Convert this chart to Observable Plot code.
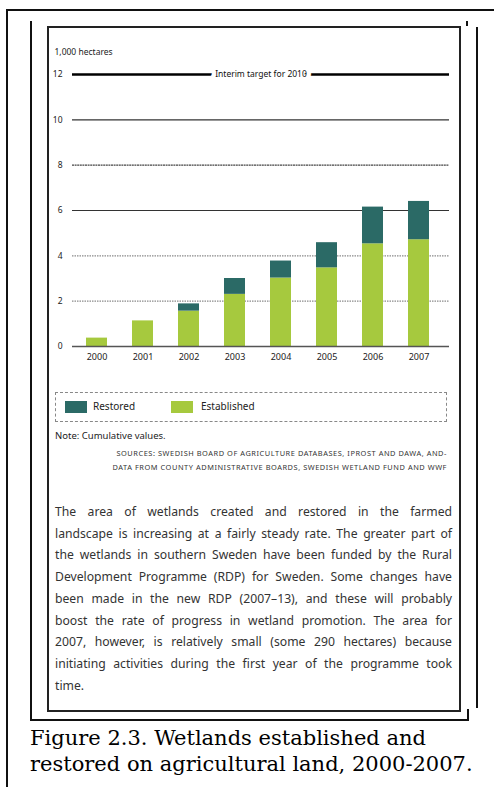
<!DOCTYPE html>
<html>
<head>
<meta charset="utf-8">
<script src="https://cdn.jsdelivr.net/npm/d3@7"></script>
<script src="https://cdn.jsdelivr.net/npm/@observablehq/plot@0.6"></script>
<style>
  html, body { margin: 0; padding: 0; background: #fff; }
  body { width: 494px; height: 787px; position: relative; overflow: hidden; font-family: "Noto Sans", "Open Sans", sans-serif; color: #222; }
  .ln { position: absolute; background: #111; }
  #chart { position: absolute; left: 48px; top: 40px; }
  #legend { position: absolute; left: 55px; top: 392px; width: 392px; height: 30px; border: 1px dashed #888; box-sizing: border-box; font-size: 10px; }
  .sw { position: absolute; top: 8px; width: 22px; height: 12px; }
  .lt { position: absolute; top: 6px; line-height: 14px; }
  #note { position: absolute; left: 55px; top: 429px; font-size: 9.5px; line-height: 14px; }
  #source { position: absolute; right: 47px; top: 446px; font-size: 7.4px; line-height: 14px; text-align: right; letter-spacing: 0.55px; color: #333; white-space: nowrap; }
  #para { position: absolute; left: 55px; top: 501px; width: 397px; font-size: 12.2px; line-height: 21.7px; color: #333; }
  #para div { text-align: justify; text-align-last: justify; white-space: nowrap; }
  #para div.last { text-align-last: left; }
  #caption { position: absolute; left: 30px; top: 725px; font-family: "DejaVu Serif", "Liberation Serif", serif; font-size: 21px; line-height: 26px; color: #000; white-space: nowrap; }
</style>
</head>
<body>
<!-- frame lines -->
<div class="ln" style="left:7px; top:9px; width:487px; height:2px;"></div>
<div class="ln" style="left:6px; top:9px; width:2px; height:778px;"></div>
<div class="ln" style="left:30px; top:21px; width:2px; height:700px;"></div>
<div class="ln" style="left:30px; top:719px; width:439px; height:2px;"></div>
<div class="ln" style="left:467px; top:709px; width:2px; height:11px;"></div>
<div class="ln" style="left:466px; top:21px; width:2px; height:5px;"></div>
<div class="ln" style="left:476px; top:27px; width:2px; height:681px;"></div>
<div style="position:absolute; left:47px; top:26px; width:410px; height:682px; border:2px solid #222;"></div>

<div id="chart"></div>
<div id="legend"></div>
<div id="note"></div>
<div id="source"></div>
<div id="para"></div>
<div id="caption"></div>

<script>
const years = ["2000", "2001", "2002", "2003", "2004", "2005", "2006", "2007"];
const established = [0.37, 1.13, 1.56, 2.30, 3.02, 3.47, 4.53, 4.71];
const restored = [0, 0, 0.32, 0.70, 0.75, 1.11, 1.62, 1.69];
const seriesNames = ["Restored", "Established"];
const seriesColors = ["#2b6a66", "#a6c93e"];
const yTicks = [0, 2, 4, 6, 8, 10, 12];
const gridSolid = [6, 10];
const gridDashed = [8];
const gridLight = [2, 4];
const targetValue = [12];
const targetLabel = "Interim target for 2010";
const unitLabel = "1,000 hectares";
const noteText = "Note: Cumulative values.";
const sourceLines = [
  "SOURCES: SWEDISH BOARD OF AGRICULTURE DATABASES, IPROST AND DAWA, AND-",
  "DATA FROM COUNTY ADMINISTRATIVE BOARDS, SWEDISH WETLAND FUND AND WWF"
];
const paraLines = [
  "The area of wetlands created and restored in the farmed",
  "landscape is increasing at a fairly steady rate. The greater part of",
  "the wetlands in southern Sweden have been funded by the Rural",
  "Development Programme (RDP) for Sweden. Some changes have",
  "been made in the new RDP (2007–13), and these will probably",
  "boost the rate of progress in wetland promotion. The area for",
  "2007, however, is relatively small (some 290 hectares) because",
  "initiating activities during the first year of the programme took",
  "time."
];
const captionLines = [
  "Figure 2.3. Wetlands established and",
  "restored on agricultural land, 2000-2007."
];

const data = [];
years.forEach((y, i) => {
  data.push({year: y, type: "Established", value: established[i]});
  data.push({year: y, type: "Restored", value: restored[i]});
});

const chart = Plot.plot({
  width: 412,
  height: 330,
  marginLeft: 24,
  marginRight: 11,
  marginTop: 34,
  marginBottom: 24,
  style: {fontFamily: "'Noto Sans', sans-serif", fontSize: "8.5px", color: "#222", background: "transparent"},
  x: {domain: years, paddingInner: 0.55, paddingOuter: 0.35, align: 0.4, label: null},
  y: {domain: [0, 12], label: null},
  color: {domain: seriesNames, range: seriesColors},
  marks: [
    Plot.ruleY(gridLight, {stroke: "#8a8a8a", strokeWidth: 1.2, strokeDasharray: "1.5,1"}),
    Plot.ruleY(gridDashed, {stroke: "#444", strokeWidth: 1.2, strokeDasharray: "2,0.6"}),
    Plot.ruleY(gridSolid, {stroke: "#333", strokeWidth: 1.2}),
    Plot.barY(data, {x: "year", y: "value", fill: "type"}),
    Plot.ruleY([0], {stroke: "#555", strokeWidth: 1.3}),
    Plot.ruleY(targetValue, {stroke: "#000", strokeWidth: 2.6}),
    Plot.text(targetValue, {y: d => d, text: () => targetLabel, fill: "#111", stroke: "white", strokeWidth: 9, fontSize: 8.5}),
    Plot.text([unitLabel], {frameAnchor: "top-left", text: d => d, dx: -18, dy: -22, textAnchor: "start", lineAnchor: "middle", fontSize: 8.5, fill: "#222"}),
    Plot.axisY({ticks: yTicks, tickSize: 0, tickPadding: 10, fontSize: 8.5}),
    Plot.axisX({tickSize: 0, tickPadding: 7, fontSize: 9})
  ]
});
document.getElementById("chart").appendChild(chart);

// legend
const legend = document.getElementById("legend");
const legendPos = [[9, 37], [115, 145]];
seriesNames.forEach((name, i) => {
  const sw = document.createElement("div");
  sw.className = "sw";
  sw.style.left = legendPos[i][0] + "px";
  sw.style.background = seriesColors[i];
  legend.appendChild(sw);
  const t = document.createElement("div");
  t.className = "lt";
  t.style.left = legendPos[i][1] + "px";
  t.textContent = name;
  legend.appendChild(t);
});

document.getElementById("note").textContent = noteText;
document.getElementById("source").innerHTML = sourceLines.map(s => `<div>${s}</div>`).join("");
const para = document.getElementById("para");
para.innerHTML = paraLines.map((s, i) => `<div class="${i === paraLines.length - 1 ? "last" : ""}">${s}</div>`).join("");
// shrink letter spacing of any line that overflows the column
para.querySelectorAll("div").forEach(div => {
  let ls = 0;
  while (div.scrollWidth > div.clientWidth && ls > -1) {
    ls -= 0.05;
    div.style.letterSpacing = ls + "px";
  }
});
document.getElementById("caption").innerHTML = captionLines.map(s => `<div>${s}</div>`).join("");
</script>
</body>
</html>
